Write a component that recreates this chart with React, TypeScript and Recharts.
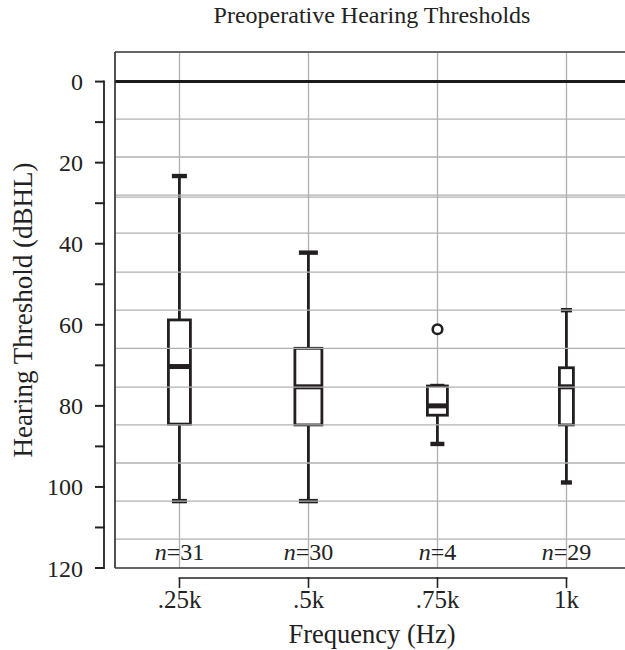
import React from 'react';
import {
  ComposedChart,
  Bar,
  Scatter,
  XAxis,
  YAxis,
  CartesianGrid,
  ReferenceLine,
} from 'recharts';

// ---------- data ----------
const categories = ['.25k', '.5k', '.75k', '1k'];
const counts = [31, 30, 4, 29];
const whiskerLow = [23.3, 42.2, 75.1, 56.4];
const q1Values = [58.8, 65.8, 75.1, 70.6];
const medianValues = [70.3, 75.3, 80.0, 75.3];
const q3Values = [84.5, 84.7, 82.3, 84.7];
const whiskerHigh = [103.5, 103.5, 89.4, 98.9];
const outlierValues: (number | null)[] = [null, null, 61.1, null];
const yTicks = [0, 10, 20, 30, 40, 50, 60, 70, 80, 90, 100, 110, 120];
const gridValues = [9.25, 18.6, 28.0, 28.5, 37.4, 47.0, 56.4, 65.8, 75.4, 84.7, 94.1, 103.5, 112.9];

// ---------- style ----------
const Y_MIN = -7.3;
const Y_MAX = 120;
const TICK_STEP = 10;
const BOX_W = [22, 27, 20, 14];
const CAP_W = [15, 19, 14, 11];
const INK = '#231f20';
const GRID = '#b0b0b0';
const FONT = "'Liberation Serif', 'Times New Roman', serif";

const rows = categories.map((c, i) => ({
  freq: c,
  n: counts[i],
  lo: whiskerLow[i],
  q1: q1Values[i],
  med: medianValues[i],
  q3: q3Values[i],
  hi: whiskerHigh[i],
  range: [whiskerLow[i], whiskerHigh[i]],
  outlier: outlierValues[i],
}));

const BoxShape = (props: any) => {
  const { x, y, width, height, payload, index } = props;
  if (!payload || typeof y !== 'number' || typeof height !== 'number') return <g />;
  const top = Math.min(y, y + height);
  const bottom = Math.max(y, y + height);
  const pix = (v: number) => top + ((bottom - top) * (v - payload.lo)) / (payload.hi - payload.lo);
  const cx = x + width / 2;
  const bw = BOX_W[index] ?? 20;
  const cw = CAP_W[index] ?? 14;
  const yLo = pix(payload.lo);
  const yQ1 = pix(payload.q1);
  const yMed = pix(payload.med);
  const yQ3 = pix(payload.q3);
  const yHi = pix(payload.hi);
  return (
    <g>
      <line x1={cx} x2={cx} y1={yLo} y2={yQ1} stroke={INK} strokeWidth={2.8} />
      <line x1={cx} x2={cx} y1={yQ3} y2={yHi} stroke={INK} strokeWidth={2.8} />
      <rect x={cx - cw / 2} y={yLo - 2.2} width={cw} height={4.4} fill={INK} />
      <rect x={cx - cw / 2} y={yHi - 2.2} width={cw} height={4.4} fill={INK} />
      <rect x={cx - bw / 2} y={yQ1} width={bw} height={yQ3 - yQ1} fill="#fff" stroke={INK} strokeWidth={2.8} />
      <line x1={cx - bw / 2} x2={cx + bw / 2} y1={yMed} y2={yMed} stroke={INK} strokeWidth={5} />
    </g>
  );
};

const OutlierShape = (props: any) => {
  const { cx, cy, payload } = props;
  if (!payload || payload.outlier == null || !isFinite(cx) || !isFinite(cy)) return <g />;
  return <circle cx={cx} cy={cy} r={4.8} fill="#fff" stroke={INK} strokeWidth={2.6} />;
};

const YTick = (props: any) => {
  const { x, y, payload, height } = props;
  const v = payload.value as number;
  const h = typeof height === 'number' && height > 0 ? height : 516;
  const pxPerUnit = h / (Y_MAX - Y_MIN);
  const spineX = x - 11;
  return (
    <g>
      <line x1={spineX - 9} x2={spineX} y1={y} y2={y} stroke="#222" strokeWidth={2} />
      {v < Y_MAX && (
        <line x1={spineX} x2={spineX} y1={y - 1} y2={y + TICK_STEP * pxPerUnit + 1} stroke="#222" strokeWidth={1.8} />
      )}
      {v % 20 === 0 && (
        <text x={spineX - 21} y={y + 8.5} textAnchor="end" fontFamily={FONT} fontSize={24} fill="#222">
          {v}
        </text>
      )}
    </g>
  );
};

const XTick = (props: any) => {
  const { x, y, payload, index, width } = props;
  const band = typeof width === 'number' && width > 0 ? width / categories.length : 129;
  const last = index === categories.length - 1;
  const n = counts[index];
  return (
    <g>
      {!last && <line x1={x - 1} x2={x + band + 1} y1={y + 10} y2={y + 10} stroke="#222" strokeWidth={1.6} />}
      <line x1={x} x2={x} y1={y + 10} y2={y + 20} stroke="#222" strokeWidth={1.6} />
      <text x={x} y={y + 40} textAnchor="middle" fontFamily={FONT} fontSize={25} fill="#222">
        {payload.value}
      </text>
      <text x={x} y={y - 8} textAnchor="middle" fontFamily={FONT} fontSize={24} fill="#222">
        <tspan fontStyle="italic">n</tspan>
        <tspan>={n}</tspan>
      </text>
    </g>
  );
};

export default function App() {
  return (
    <div style={{ position: 'absolute', left: 0, top: 0, width: 625, height: 650, overflow: 'hidden', background: '#fff' }}>
      <ComposedChart
        width={640}
        height={650}
        data={rows}
        margin={{ top: 52, right: 9, bottom: 0, left: 55 }}
      >
        <CartesianGrid horizontal={false} vertical stroke={GRID} strokeWidth={1.3} />
        {gridValues.map((g) => (
          <ReferenceLine key={g} y={g} stroke={GRID} strokeWidth={1.3} />
        ))}
        <ReferenceLine y={Y_MIN} stroke="#666" strokeWidth={2} />
        <ReferenceLine y={0} stroke="#1a1a1a" strokeWidth={3} />
        <XAxis
          dataKey="freq"
          type="category"
          height={82}
          tickSize={0}
          tickMargin={0}
          tickLine={false}
          axisLine={{ stroke: '#333', strokeWidth: 1.6 }}
          tick={<XTick />}
          interval={0}
        />
        <YAxis
          type="number"
          domain={[Y_MIN, Y_MAX]}
          reversed
          ticks={yTicks}
          width={60}
          tickSize={0}
          tickMargin={0}
          tickLine={false}
          axisLine={{ stroke: '#333', strokeWidth: 1.6 }}
          tick={<YTick />}
          interval={0}
          allowDataOverflow
        />
        <Bar dataKey="range" shape={<BoxShape />} isAnimationActive={false} />
        <Scatter dataKey="outlier" shape={<OutlierShape />} isAnimationActive={false} />
      </ComposedChart>
      <svg
        width={625}
        height={650}
        style={{ position: 'absolute', left: 0, top: 0, pointerEvents: 'none' }}
      >
        <text x={372} y={23} textAnchor="middle" fontFamily={FONT} fontSize={24} fill="#222">
          Preoperative Hearing Thresholds
        </text>
        <text x={372} y={643} textAnchor="middle" fontFamily={FONT} fontSize={26.5} fill="#222">
          Frequency (Hz)
        </text>
        <text
          x={32}
          y={310}
          textAnchor="middle"
          fontFamily={FONT}
          fontSize={27}
          fill="#222"
          transform="rotate(-90 32 310)"
        >
          Hearing Threshold (dBHL)
        </text>
      </svg>
    </div>
  );
}
